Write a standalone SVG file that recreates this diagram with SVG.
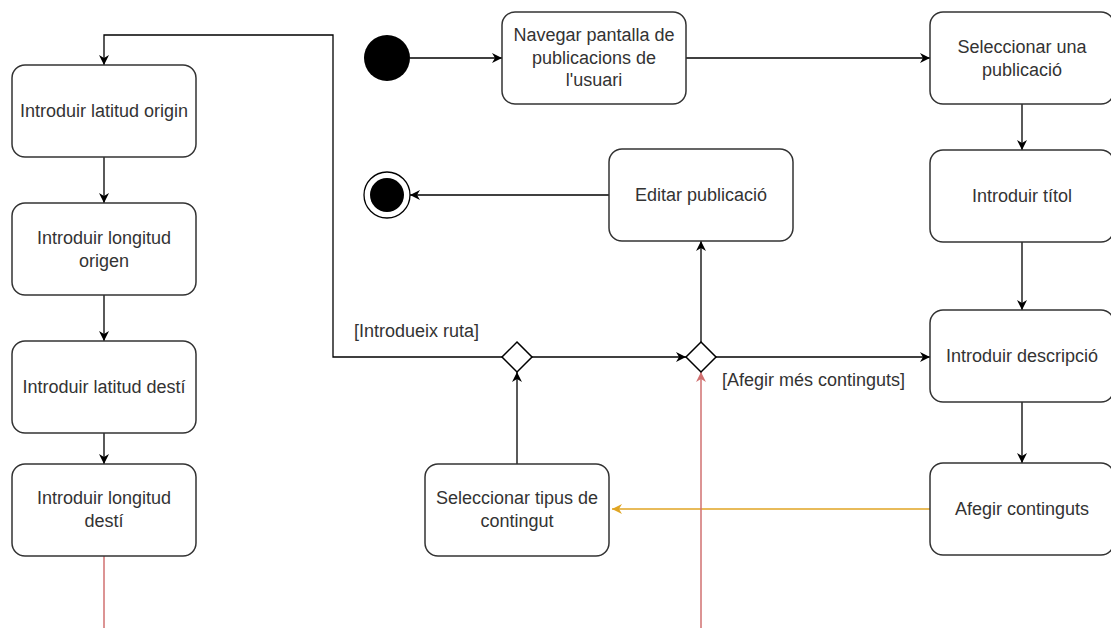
<svg xmlns="http://www.w3.org/2000/svg" width="1111" height="628" viewBox="0 0 1111 628">
<defs>
<style>
.box{fill:#fff;stroke:#333;stroke-width:1.5}
.t{font-family:"Liberation Sans",Arial,sans-serif;font-size:18px;fill:#333;text-anchor:middle;dominant-baseline:central}
.lbl{font-family:"Liberation Sans",Arial,sans-serif;font-size:18px;fill:#333;dominant-baseline:central}
.e{fill:none;stroke:#000;stroke-width:1.3}
.red{fill:none;stroke:#d07070;stroke-width:1.5}
.yel{fill:none;stroke:#e0a523;stroke-width:1.5}
.dia{fill:#fff;stroke:#000;stroke-width:1.5}
</style>
<marker id="a" viewBox="0 0 10 10" refX="10" refY="5" markerWidth="11" markerHeight="10" markerUnits="userSpaceOnUse" orient="auto"><path d="M0,0 L10,5 L0,10 L3,5 z" fill="#000"/></marker>
<marker id="ar" viewBox="0 0 10 10" refX="10" refY="5" markerWidth="11" markerHeight="10" markerUnits="userSpaceOnUse" orient="auto"><path d="M0,0 L10,5 L0,10 L3,5 z" fill="#d07070"/></marker>
<marker id="ay" viewBox="0 0 10 10" refX="10" refY="5" markerWidth="11" markerHeight="10" markerUnits="userSpaceOnUse" orient="auto"><path d="M0,0 L10,5 L0,10 L3,5 z" fill="#e0a523"/></marker>
</defs>
<rect width="1111" height="628" fill="#fff"/>
<g id="connectors">
<line class="e" x1="410" y1="58" x2="502" y2="58" marker-end="url(#a)"/>
<line class="e" x1="686" y1="58" x2="930" y2="58" marker-end="url(#a)"/>
<line class="e" x1="1022" y1="104" x2="1022" y2="150" marker-end="url(#a)"/>
<line class="e" x1="1022" y1="242" x2="1022" y2="310" marker-end="url(#a)"/>
<line class="e" x1="1022" y1="402" x2="1022" y2="463" marker-end="url(#a)"/>
<line class="yel" x1="930" y1="509" x2="612" y2="509" marker-end="url(#ay)"/>
<line class="e" x1="517" y1="464" x2="517" y2="372" marker-end="url(#a)"/>
<line class="e" x1="532" y1="357" x2="686" y2="357" marker-end="url(#a)"/>
<polyline class="e" points="502,357 333,357 333,35 104,35 104,65" marker-end="url(#a)"/>
<line class="e" x1="716" y1="357" x2="930" y2="357" marker-end="url(#a)"/>
<line class="e" x1="701" y1="342" x2="701" y2="241" marker-end="url(#a)"/>
<line class="e" x1="609" y1="195" x2="410" y2="195" marker-end="url(#a)"/>
<line class="e" x1="104" y1="157" x2="104" y2="203" marker-end="url(#a)"/>
<line class="e" x1="104" y1="295" x2="104" y2="341" marker-end="url(#a)"/>
<line class="e" x1="104" y1="433" x2="104" y2="464" marker-end="url(#a)"/>
<line class="red" x1="104" y1="556" x2="104" y2="628"/>
<line class="red" x1="701" y1="628" x2="701" y2="372" marker-end="url(#ar)"/>
<text class="lbl" x="354" y="331">[Introdueix ruta]</text>
<text class="lbl" x="722" y="380">[Afegir més continguts]</text>
</g>
<g id="start"><circle cx="387" cy="58" r="23" fill="#000"/></g>
<g id="end"><circle cx="387" cy="195" r="23" fill="#fff" stroke="#000" stroke-width="1.3"/><circle cx="387" cy="195" r="17" fill="#000"/></g>
<g id="navegar"><rect class="box" x="502" y="12" width="184" height="92" rx="13"/><text class="t" x="594" y="35">Navegar pantalla de</text><text class="t" x="594" y="57.5">publicacions de</text><text class="t" x="594" y="80">l'usuari</text></g>
<g id="seleccionar-publicacio"><rect class="box" x="930" y="12" width="184" height="92" rx="13"/><text class="t" x="1022" y="47">Seleccionar una</text><text class="t" x="1022" y="69.5">publicació</text></g>
<g id="titol"><rect class="box" x="930" y="150" width="184" height="92" rx="13"/><text class="t" x="1022" y="196">Introduir títol</text></g>
<g id="descripcio"><rect class="box" x="930" y="310" width="184" height="92" rx="13"/><text class="t" x="1022" y="356">Introduir descripció</text></g>
<g id="afegir"><rect class="box" x="930" y="463" width="184" height="92" rx="13"/><text class="t" x="1022" y="509">Afegir continguts</text></g>
<g id="tipus"><rect class="box" x="425" y="464" width="184" height="92" rx="13"/><text class="t" x="517" y="498">Seleccionar tipus de</text><text class="t" x="517" y="520.5">contingut</text></g>
<g id="editar"><rect class="box" x="609" y="149" width="184" height="92" rx="13"/><text class="t" x="701" y="195">Editar publicació</text></g>
<g id="decision1"><polygon class="dia" points="517,342 532,357 517,372 502,357"/></g>
<g id="decision2"><polygon class="dia" points="701,342 716,357 701,372 686,357"/></g>
<g id="lat-origen"><rect class="box" x="12" y="65" width="184" height="92" rx="13"/><text class="t" x="104" y="111">Introduir latitud origin</text></g>
<g id="lon-origen"><rect class="box" x="12" y="203" width="184" height="92" rx="13"/><text class="t" x="104" y="238">Introduir longitud</text><text class="t" x="104" y="260.5">origen</text></g>
<g id="lat-desti"><rect class="box" x="12" y="341" width="184" height="92" rx="13"/><text class="t" x="104" y="387">Introduir latitud destí</text></g>
<g id="lon-desti"><rect class="box" x="12" y="464" width="184" height="92" rx="13"/><text class="t" x="104" y="498">Introduir longitud</text><text class="t" x="104" y="520.5">destí</text></g>
</svg>
